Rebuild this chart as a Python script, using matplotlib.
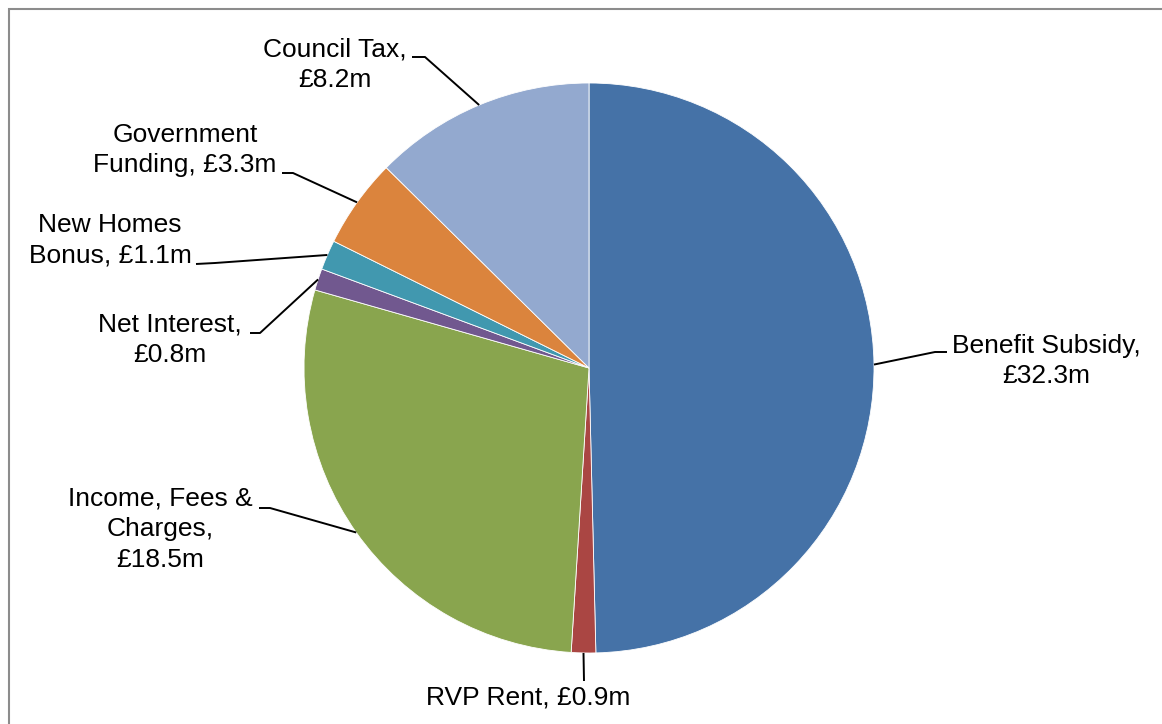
import matplotlib
import matplotlib.pyplot as plt
import numpy as np
from matplotlib.patches import Rectangle

matplotlib.use("Agg")

plt.rcParams["font.family"] = ["Liberation Sans", "DejaVu Sans"]

# data (clockwise from 12 o'clock)
categories = [
    "Benefit Subsidy",
    "RVP Rent",
    "Income, Fees & Charges",
    "Net Interest",
    "New Homes Bonus",
    "Government Funding",
    "Council Tax",
]
values = [32.3, 0.9, 18.5, 0.8, 1.1, 3.3, 8.2]
label_texts = [
    "Benefit Subsidy,\n£32.3m",
    "RVP Rent, £0.9m",
    "Income, Fees &\nCharges,\n£18.5m",
    "Net Interest,\n£0.8m",
    "New Homes\nBonus, £1.1m",
    "Government\nFunding, £3.3m",
    "Council Tax,\n£8.2m",
]
colors = ["#4572A7", "#AA4643", "#89A54E", "#71588F", "#4198AF", "#DB843D", "#93A9CF"]

# layout in pixels: pie centre, radius, label centres and leader elbows
W, H = 1162, 724
CX, CY, R = 589, 368, 285
label_pos = [(1046, 361), (528, 697), (160, 529), (170, 340), (110, 240), (185, 150), (335, 65)]
elbows = [
    [(935, 352), (947, 352)],
    [(584, 681)],
    [(270, 508), (259, 508)],
    [(260, 333), (250, 333)],
    [(215, 263), (196, 264)],
    [(293, 173), (282, 173)],
    [(425, 57), (412, 57)],
]


def px(x, y):
    return (x - CX) / R, (CY - y) / R


fig = plt.figure(figsize=(W / 100, H / 100), dpi=100)
ax = fig.add_axes([0, 0, 1, 1])
wedges, _ = ax.pie(
    values,
    startangle=90,
    counterclock=False,
    colors=colors,
    radius=1,
    center=(0, 0),
    wedgeprops=dict(edgecolor="white", linewidth=0.6),
)
ax.set_xlim(-CX / R, (W - CX) / R)
ax.set_ylim(-(H - CY) / R, CY / R)
ax.set_aspect("equal")
ax.axis("off")

for w, text, pos, elbow in zip(wedges, label_texts, label_pos, elbows):
    ang = np.deg2rad((w.theta1 + w.theta2) / 2)
    pts = [(np.cos(ang), np.sin(ang))] + [px(*p) for p in elbow]
    xs, ys = zip(*pts)
    ax.plot(xs, ys, color="black", linewidth=1.4, solid_capstyle="butt")
    ax.text(*px(*pos), text, ha="center", va="center", fontsize=19,
            linespacing=1.35, color="black")

# outer chart border (top and left visible)
fig.patches.append(Rectangle((9 / W, -0.1), 1.2, 1 - 9 / H + 0.1, transform=fig.transFigure,
                             fill=False, edgecolor="#8c8c8c", linewidth=1.5))

fig.savefig("out.png", dpi=100)
